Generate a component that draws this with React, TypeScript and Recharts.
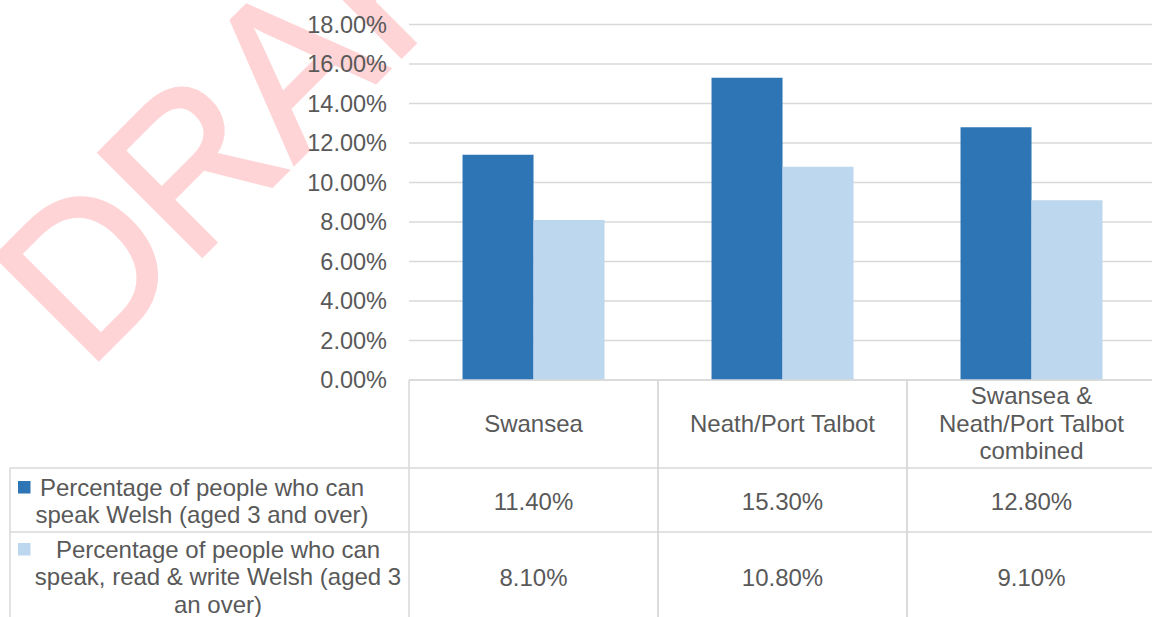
import React from 'react';
import { BarChart, Bar, XAxis, YAxis, CartesianGrid } from 'recharts';

const CATEGORIES = ['Swansea', 'Neath/Port Talbot', 'Swansea & Neath/Port Talbot combined'];
const CATEGORY_LINES = [['Swansea'], ['Neath/Port Talbot'], ['Swansea &', 'Neath/Port Talbot', 'combined']];
const SPEAK = [11.4, 15.3, 12.8];
const SPEAK_RW = [8.1, 10.8, 9.1];
const SERIES_KEYS = ['speak', 'speakRW'];
const SERIES_COLORS = ['#2e75b6', '#bdd7ee'];
const LEGEND_LINES = [
  ['Percentage of people who can', 'speak Welsh (aged 3 and over)'],
  ['Percentage of people who can', 'speak, read & write Welsh (aged 3', 'an over)'],
];
const Y_TICKS = [0, 2, 4, 6, 8, 10, 12, 14, 16, 18];
const WATERMARK = 'DRAFT';

const data = CATEGORIES.map((name, i) => ({ name, speak: SPEAK[i], speakRW: SPEAK_RW[i] }));
const SERIES_VALUES = [SPEAK, SPEAK_RW];

const W = 1152;
const H = 617;
const FONT = '"Liberation Sans", Arial, sans-serif';
const TEXT = '#595959';
const LINE = '#d9d9d9';
const PINK = '#ffd4d6';
const FS = 23.5;
const TFS = 24;
const PLOT_LEFT = 409;
const PLOT_RIGHT = 1156;
const PLOT_BOTTOM = 380;
const AXIS_H = H - PLOT_BOTTOM;
const HEADER_BOTTOM = 468;
const ROW1_BOTTOM = 532;
const ROW2_BOTTOM = 622;
const COL_W = (PLOT_RIGHT - PLOT_LEFT) / CATEGORIES.length;
const LH = 27.5;

const fmt = (v: number) => v.toFixed(2) + '%';

function Lines({ cx, cy, lines, anchor = 'middle' }: any) {
  const n = lines.length;
  return (
    <>
      {lines.map((t: string, k: number) => (
        <text
          key={k}
          x={cx}
          y={cy + (k - (n - 1) / 2) * LH}
          dy="0.35em"
          textAnchor={anchor}
          fill={TEXT}
          fontSize={TFS}
          fontFamily={FONT}
        >
          {t}
        </text>
      ))}
    </>
  );
}

function TableTick(props: any) {
  const { x, payload } = props;
  const idx = CATEGORIES.indexOf(payload.value);
  const left = x - COL_W / 2;
  const right = x + COL_W / 2;
  return (
    <g>
      <line x1={left} x2={left} y1={PLOT_BOTTOM} y2={H} stroke={LINE} strokeWidth={1.5} />
      <line x1={right} x2={right} y1={PLOT_BOTTOM} y2={H} stroke={LINE} strokeWidth={1.5} />
      <line x1={left} x2={right} y1={HEADER_BOTTOM} y2={HEADER_BOTTOM} stroke={LINE} strokeWidth={1.5} />
      <line x1={left} x2={right} y1={ROW1_BOTTOM} y2={ROW1_BOTTOM} stroke={LINE} strokeWidth={1.5} />
      <Lines cx={x} cy={(PLOT_BOTTOM + HEADER_BOTTOM) / 2 - 0.5} lines={CATEGORY_LINES[idx]} />
      <Lines cx={x} cy={(HEADER_BOTTOM + ROW1_BOTTOM) / 2 + 1.5} lines={[fmt(SERIES_VALUES[0][idx])]} />
      <Lines cx={x} cy={(ROW1_BOTTOM + ROW2_BOTTOM) / 2 + 0.5} lines={[fmt(SERIES_VALUES[1][idx])]} />
    </g>
  );
}

export default function App() {
  return (
    <div style={{ position: 'absolute', left: 0, top: 0, width: W, height: H, background: '#fff', overflow: 'hidden' }}>
      <svg width={W} height={H} style={{ position: 'absolute', left: 0, top: 0 }}>
        <g transform="translate(87 371) rotate(-45) scale(1.12 1.17)">
          <text
            x={0}
            y={0}
            fontSize={181}
            fontFamily={FONT}
            fill={PINK}
            stroke={PINK}
            strokeWidth={3}
            strokeLinejoin="miter"
          >
            {WATERMARK}
          </text>
        </g>
        {/* legend column of the data table */}
        <line x1={10} x2={10} y1={HEADER_BOTTOM} y2={H} stroke={LINE} strokeWidth={1.5} />
        <line x1={10} x2={PLOT_LEFT} y1={HEADER_BOTTOM} y2={HEADER_BOTTOM} stroke={LINE} strokeWidth={1.5} />
        <line x1={10} x2={PLOT_LEFT} y1={ROW1_BOTTOM} y2={ROW1_BOTTOM} stroke={LINE} strokeWidth={1.5} />
        <rect x={18} y={481} width={12.5} height={12.5} fill={SERIES_COLORS[0]} />
        <rect x={18} y={543} width={12.5} height={12.5} fill={SERIES_COLORS[1]} />
        <Lines cx={202} cy={(HEADER_BOTTOM + ROW1_BOTTOM) / 2 + 1} lines={LEGEND_LINES[0]} />
        <Lines cx={218} cy={(ROW1_BOTTOM + ROW2_BOTTOM) / 2} lines={LEGEND_LINES[1]} />
      </svg>
      <div style={{ position: 'absolute', left: 0, top: 0 }}>
        <BarChart
          width={W}
          height={H}
          data={data}
          margin={{ top: 24.5, right: W - PLOT_RIGHT, bottom: 0, left: PLOT_LEFT - 100 }}
          barCategoryGap="21.5%"
          barGap={0}
        >
          <CartesianGrid vertical={false} stroke={LINE} strokeWidth={1.3} />
          <YAxis
            width={100}
            domain={[0, 18]}
            ticks={Y_TICKS}
            interval={0}
            tickFormatter={fmt}
            axisLine={false}
            tickLine={false}
            tickSize={0}
            tickMargin={22}
            tick={{ fill: TEXT, fontSize: FS, fontFamily: FONT }}
          />
          <XAxis
            dataKey="name"
            height={AXIS_H}
            interval={0}
            axisLine={{ stroke: LINE, strokeWidth: 1.5 }}
            tickLine={false}
            tick={<TableTick />}
          />
          {SERIES_KEYS.map((k, i) => (
            <Bar key={k} dataKey={k} fill={SERIES_COLORS[i]} isAnimationActive={false} />
          ))}
        </BarChart>
      </div>
    </div>
  );
}
